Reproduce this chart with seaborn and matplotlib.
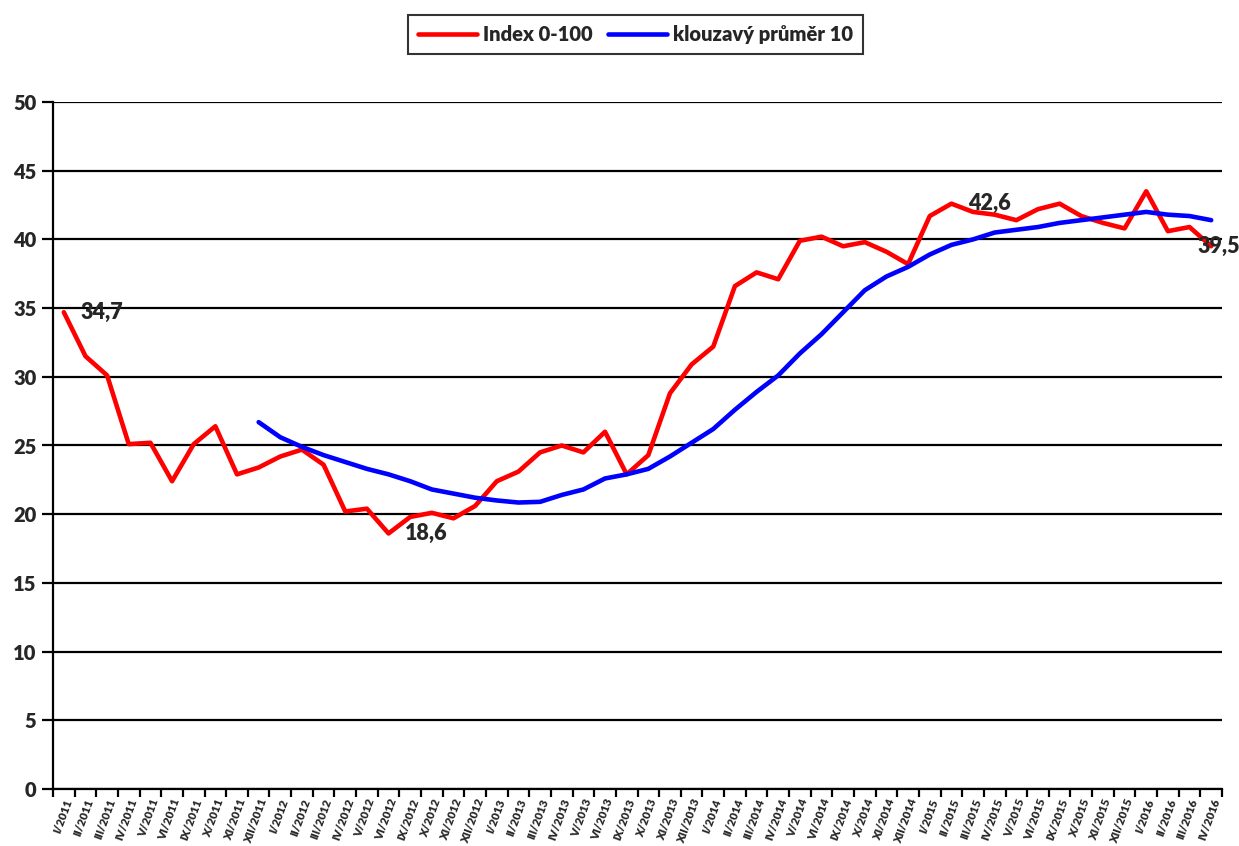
import numpy as np
import pandas as pd
import seaborn as sns
import matplotlib.pyplot as plt

# months shown on the axis (VII and VIII are not surveyed)
months = ['I', 'II', 'III', 'IV', 'V', 'VI', 'IX', 'X', 'XI', 'XII']
years = [2011, 2012, 2013, 2014, 2015]
months_2016 = ['I', 'II', 'III', 'IV']

tick_labels = [f"{m}/{y}" for y in years for m in months] + [f"{m}/2016" for m in months_2016]

# Index 0-100
index_vals = [34.7, 31.5, 30.1, 25.1, 25.2, 22.4, 25.1, 26.4, 22.9, 23.4,
              24.2, 24.7, 23.6, 20.2, 20.4, 18.6, 19.8, 20.1, 19.7, 20.6,
              22.4, 23.1, 24.5, 25.0, 24.5, 26.0, 22.9, 24.3, 28.8, 30.9,
              32.2, 36.6, 37.6, 37.1, 39.9, 40.2, 39.5, 39.8, 39.1, 38.2,
              41.7, 42.6, 42.0, 41.8, 41.4, 42.2, 42.6, 41.7, 41.2, 40.8,
              43.5, 40.6, 40.9, 39.5]

# moving average line, starts at the 10th point
ma_start = 9
ma_vals = [26.7, 25.6, 24.9, 24.3, 23.8, 23.3, 22.9, 22.4, 21.8, 21.5,
           21.2, 21.0, 20.85, 20.9, 21.4, 21.8, 22.6, 22.9, 23.3, 24.2,
           25.2, 26.2, 27.6, 28.9, 30.1, 31.7, 33.1, 34.7, 36.3, 37.3,
           38.0, 38.9, 39.6, 40.0, 40.5, 40.7, 40.9, 41.2, 41.4, 41.6,
           41.8, 42.0, 41.8, 41.7, 41.4]

# labelled points: (index, value text)
labelled = [(0, '34,7'), (15, '18,6'), (41, '42,6'), (53, '39,5')]

sns.set_style("white")
plt.rcParams['font.family'] = ['Lato', 'DejaVu Sans']
plt.rcParams['font.weight'] = 'heavy'

df_idx = pd.DataFrame({'x': np.arange(len(index_vals)), 'y': index_vals})
df_ma = pd.DataFrame({'x': np.arange(ma_start, ma_start + len(ma_vals)), 'y': ma_vals})

fig = plt.figure(figsize=(12.39, 8.46), dpi=100)
ax = fig.add_axes([53 / 1239, 57 / 846, (1222 - 53) / 1239, (789 - 102) / 846])

sns.lineplot(data=df_idx, x='x', y='y', color='#FF0000', lw=3.3, ax=ax, label='Index 0-100')
sns.lineplot(data=df_ma, x='x', y='y', color='#0000FF', lw=3.3, ax=ax, label='klouzavý průměr 10')

ax.set_ylim(0, 50)
ax.set_yticks(range(0, 51, 5))
ax.set_xlim(-0.5, len(index_vals) - 0.5)
ax.set_xlabel('')
ax.set_ylabel('')

ax.grid(axis='y', color='black', lw=1.6)
ax.grid(axis='x', visible=False)
for s in ['top', 'right']:
    ax.spines[s].set_visible(False)
for s in ['left', 'bottom']:
    ax.spines[s].set_color('black')
    ax.spines[s].set_linewidth(1.6)

ax.tick_params(axis='y', left=True, length=8, width=1.6, color='black', labelsize=14.5, pad=4)

ax.set_xticks(np.arange(len(index_vals)))
ax.set_xticklabels(tick_labels, rotation=70, ha='right', va='top', rotation_mode='anchor', fontsize=8.2)
ax.set_xticks(np.arange(-0.5, len(index_vals), 1), minor=True)
ax.tick_params(axis='x', which='major', bottom=True, length=0, pad=6)
ax.tick_params(axis='x', which='minor', bottom=True, length=6, width=1.6, color='black')

for i, txt in labelled:
    dx = -10 if i == len(index_vals) - 1 else 12
    ax.annotate(txt, xy=(i, index_vals[i]), xytext=(dx, 0), textcoords='offset points',
                ha='left', va='center', fontsize=15.5)

leg = ax.legend(loc='center', bbox_to_anchor=(0.513, 0.959), bbox_transform=fig.transFigure,
                ncol=2, frameon=True, fancybox=False, edgecolor='black', fontsize=14.5,
                handlelength=2.9, columnspacing=0.8, handletextpad=0.3, borderpad=0.5)
leg.get_frame().set_linewidth(1.5)

fig.savefig('out.png', dpi=100)
